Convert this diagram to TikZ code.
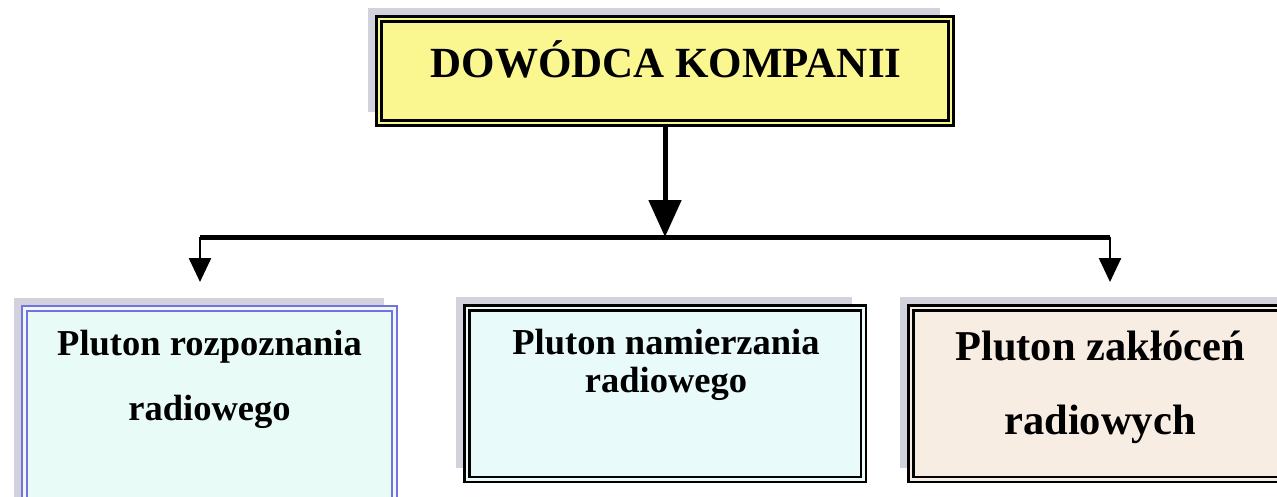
\documentclass[tikz,border=0pt]{standalone}
\usepackage{fontspec}
\setmainfont{Liberation Serif}
\usetikzlibrary{arrows.meta,backgrounds}
\definecolor{topfill}{HTML}{FAF690}
\definecolor{onefill}{HTML}{E9FBF6}
\definecolor{onedraw}{HTML}{7A6FE0}
\definecolor{twofill}{HTML}{E8FAFA}
\definecolor{threefill}{HTML}{F8EDE3}
\definecolor{shadowc}{HTML}{D2D2DC}
\tikzset{
  dbox/.style={draw, line width=2.5pt, double distance=2.5pt, outer sep=0pt, inner sep=0pt, anchor=north west},
  lbl/.style={anchor=base, inner sep=0pt},
  bigfont/.style={font=\bfseries\fontsize{43}{43}\selectfont},
  midfont/.style={font=\bfseries\fontsize{36.5}{36.5}\selectfont},
  zfont/.style={font=\bfseries\fontsize{42.5}{42.5}\selectfont},
  bus/.style={line width=5pt},
  bigarrow/.style={line width=5pt, -{Triangle[length=37pt,width=32pt]}},
  smallarrow/.style={line width=2.5pt, -{Triangle[length=24pt,width=22pt]}},
  shad/.style={fill=shadowc},
}
\begin{document}
\begin{tikzpicture}[x=1pt,y=-1pt]
\useasboundingbox (0,0) rectangle (1277,496);
\clip (0,0) rectangle (1277,496);
% coordinates of the bus
\coordinate (busC) at (665,237);
\coordinate (busL) at (200,237);
\coordinate (busR) at (1110,237);
\coordinate (endL) at (200,282);
\coordinate (endR) at (1110,282);
\coordinate (topS) at (665,126);
% boxes
\node[dbox, double=topfill, fill=topfill, minimum width=572pt, minimum height=104pt] (top) at (379,19) {};
\node[dbox, draw=onedraw, line width=2pt, double distance=3pt, double=onefill, fill=onefill, minimum width=370pt, minimum height=221.5pt] (one) at (24.5,308.5) {};
\node[dbox, double=twofill, fill=twofill, minimum width=396.5pt, minimum height=171.5pt] (two) at (466.75,307.75) {};
\node[dbox, double=threefill, fill=threefill, minimum width=389.25pt, minimum height=171.5pt] (three) at (910.75,307.75) {};
% background and shadows
\begin{scope}[on background layer]
\fill[white] (0,0) rectangle (1277,496);
\fill[shad] ([shift={(-11,-11)}]top.north west) rectangle ([shift={(-11,-11)}]top.south east);
\fill[shad] ([shift={(-11,-11)}]one.north west) rectangle ([shift={(-11,-11)}]one.south east);
\fill[shad] ([shift={(-11,-11)}]two.north west) rectangle ([shift={(-11,-11)}]two.south east);
\fill[shad] ([shift={(-11,-11)}]three.north west) rectangle ([shift={(-11,-11)}]three.south east);
\end{scope}
% connectors
\draw[bigarrow] (topS) -- (busC);
\draw[bus] (busL) -- (busR);
\draw[smallarrow] (busL) -- (endL);
\draw[smallarrow] (busR) -- (endR);
% texts
\node[lbl, bigfont] (toptext) at (666,77) {DOWÓDCA KOMPANII};
\node[lbl, midfont] (onea) at (209.5,355) {Pluton rozpoznania};
\node[lbl, midfont] (oneb) at (209.5,420) {radiowego};
\node[lbl, midfont] (twoa) at (666,354) {Pluton namierzania};
\node[lbl, midfont] (twob) at (666,392) {radiowego};
\node[lbl, zfont] (threea) at (1100,360) {Pluton zakłóceń};
\node[lbl, zfont] (threeb) at (1100,434) {radiowych};
\end{tikzpicture}
\end{document}
